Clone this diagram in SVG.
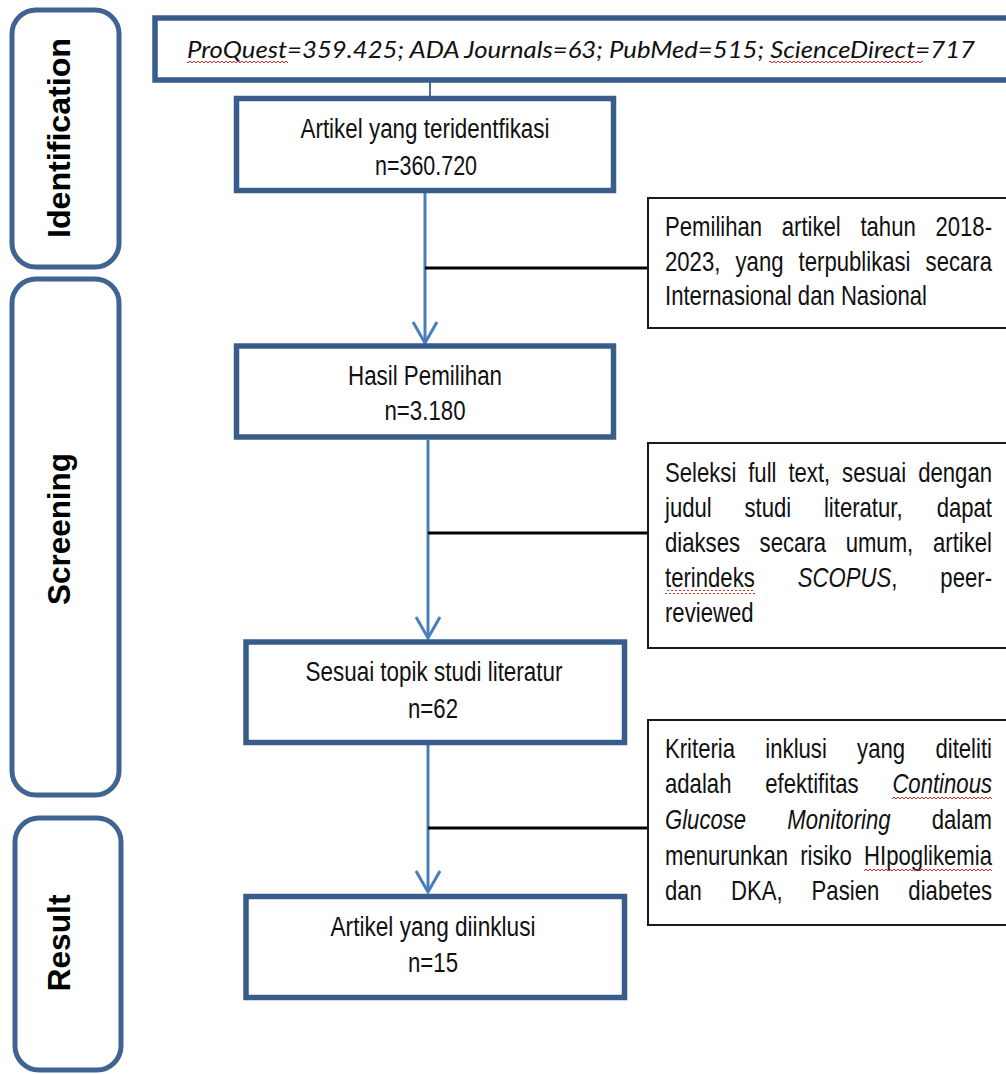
<svg xmlns="http://www.w3.org/2000/svg" width="1006" height="1074" viewBox="0 0 1006 1074">
<defs>
<style>
.bx{fill:#fff;stroke:#385d8a;stroke-width:5.5}
.side{fill:#fff;stroke:#3f6494;stroke-width:5}
.rb{fill:#fff;stroke:#1a1a1a;stroke-width:2}
.lbl{font-family:"Liberation Sans",Arial,sans-serif;font-weight:bold;font-size:31px;fill:#000}
.nt{font-family:"Liberation Sans Narrow","Arial Narrow","Liberation Sans",sans-serif;font-size:27px;fill:#111}
.rt{font-family:"Liberation Sans",Arial,sans-serif;font-size:27px;fill:#111}
.it{font-style:italic}
.arr{stroke:#4a7ebb;stroke-width:3;fill:none}
.br{stroke:#000;stroke-width:3;fill:none}
.top{font-family:Lato,"Open Sans",sans-serif;font-style:italic;font-size:24px;fill:#111}
</style>
<pattern id="sq" width="4" height="4" patternUnits="userSpaceOnUse">
<path d="M0,3 L2,1 L4,3" stroke="#e02a2a" stroke-width="1" fill="none"/>
</pattern>
</defs>

<g id="stage-identification">
<rect class="side" x="12" y="10" width="107" height="257" rx="24"/>
<text class="lbl" transform="translate(70,138) rotate(-90)" text-anchor="middle" textLength="200" lengthAdjust="spacingAndGlyphs">Identification</text>
</g>
<g id="stage-screening">
<rect class="side" x="12" y="279" width="107" height="516" rx="24"/>
<text class="lbl" transform="translate(70,529) rotate(-90)" text-anchor="middle" textLength="152" lengthAdjust="spacingAndGlyphs">Screening</text>
</g>
<g id="stage-result">
<rect class="side" x="15" y="818" width="106" height="252" rx="24"/>
<text class="lbl" transform="translate(70,943) rotate(-90)" text-anchor="middle" textLength="97" lengthAdjust="spacingAndGlyphs">Result</text>
</g>

<g id="connectors">
<line x1="430" y1="82" x2="430" y2="96" stroke="#4a6f9c" stroke-width="2"/>
<line class="arr" x1="425" y1="193" x2="425" y2="343"/>
<path class="arr" d="M413,322 L425,343 L437,322"/>
<line class="br" x1="425" y1="268" x2="648" y2="268"/>
<line class="arr" x1="428" y1="440" x2="428" y2="638"/>
<path class="arr" d="M416,617 L428,638 L440,617"/>
<line class="br" x1="428" y1="533" x2="648" y2="533"/>
<line class="arr" x1="428" y1="745" x2="428" y2="892"/>
<path class="arr" d="M416,871 L428,892 L440,871"/>
<line class="br" x1="428" y1="828" x2="648" y2="828"/>
</g>

<g id="sources">
<rect class="bx" x="155" y="18" width="860" height="62"/>
<text class="top" x="187" y="58" textLength="788" lengthAdjust="spacingAndGlyphs">ProQuest=359.425; ADA Journals=63; PubMed=515; ScienceDirect=717</text>
<rect x="187" y="61" width="101" height="4" fill="url(#sq)"/>
<rect x="769" y="61" width="154" height="4" fill="url(#sq)"/>
</g>

<g id="identified">
<rect class="bx" x="236.5" y="98.5" width="377" height="92"/>
<text class="nt" x="425" y="138" text-anchor="middle" textLength="249" lengthAdjust="spacingAndGlyphs">Artikel yang teridentfikasi</text>
<text class="nt" x="426" y="175" text-anchor="middle" textLength="102" lengthAdjust="spacingAndGlyphs">n=360.720</text>
</g>

<g id="selection-result">
<rect class="bx" x="236.5" y="346" width="377" height="91"/>
<text class="nt" x="425" y="385" text-anchor="middle" textLength="154" lengthAdjust="spacingAndGlyphs">Hasil Pemilihan</text>
<text class="nt" x="425" y="420" text-anchor="middle" textLength="81" lengthAdjust="spacingAndGlyphs">n=3.180</text>
</g>

<g id="topic-match">
<rect class="bx" x="246" y="642" width="378.5" height="100.5"/>
<text class="nt" x="434" y="681" text-anchor="middle" textLength="257" lengthAdjust="spacingAndGlyphs">Sesuai topik studi literatur</text>
<text class="nt" x="433" y="718" text-anchor="middle" textLength="50" lengthAdjust="spacingAndGlyphs">n=62</text>
</g>

<g id="included">
<rect class="bx" x="246" y="896.5" width="378.5" height="101"/>
<text class="nt" x="433" y="936" text-anchor="middle" textLength="205" lengthAdjust="spacingAndGlyphs">Artikel yang diinklusi</text>
<text class="nt" x="433" y="972" text-anchor="middle" textLength="50" lengthAdjust="spacingAndGlyphs">n=15</text>
</g>

<g id="criteria-year">
<rect class="rb" x="648" y="198" width="370" height="130"/>
<g transform="translate(665 0) scale(0.82 1)">
<text class="rt" y="236"><tspan x="0">Pemilihan</tspan><tspan x="142.4">artikel</tspan><tspan x="238.3">tahun</tspan></text>
<text class="rt" y="236" x="398.8" text-anchor="end">2018-</text>
<text class="rt" y="271"><tspan x="0">2023,</tspan><tspan x="86">yang</tspan><tspan x="162.9">terpublikasi</tspan></text>
<text class="rt" y="271" x="398.8" text-anchor="end">secara</text>
<text class="rt" x="0" y="305">Internasional dan Nasional</text>
</g>
</g>

<g id="criteria-fulltext">
<rect class="rb" x="648" y="443" width="370" height="205"/>
<g transform="translate(665 0) scale(0.82 1)">
<text class="rt" y="482"><tspan x="0">Seleksi</tspan><tspan x="101.5">full</tspan><tspan x="150.5">text,</tspan><tspan x="216">sesuai</tspan></text>
<text class="rt" y="482" x="398.8" text-anchor="end">dengan</text>
<text class="rt" y="517"><tspan x="0">judul</tspan><tspan x="96.9">studi</tspan><tspan x="193.8">literatur,</tspan></text>
<text class="rt" y="517" x="398.8" text-anchor="end">dapat</text>
<text class="rt" y="552"><tspan x="0">diakses</tspan><tspan x="115.4">secara</tspan><tspan x="220.3">umum,</tspan></text>
<text class="rt" y="552" x="398.8" text-anchor="end">artikel</text>
<text class="rt" y="587"><tspan x="0">terindeks</tspan><tspan x="161.9" class="it">SCOPUS</tspan>,</text>
<text class="rt" y="587" x="398.8" text-anchor="end">peer-</text>
<text class="rt" x="0" y="622">reviewed</text>
</g>
<rect x="665" y="590" width="90" height="4" fill="url(#sq)"/>
</g>

<g id="criteria-inclusion">
<rect class="rb" x="648" y="720" width="370" height="205"/>
<g transform="translate(665 0) scale(0.82 1)">
<text class="rt" y="758"><tspan x="0">Kriteria</tspan><tspan x="122.4">inklusi</tspan><tspan x="234.3">yang</tspan></text>
<text class="rt" y="758" x="398.8" text-anchor="end">diteliti</text>
<text class="rt" y="793"><tspan x="0">adalah</tspan><tspan x="122.2">efektifitas</tspan></text>
<text class="rt it" y="793" x="398.8" text-anchor="end">Continous</text>
<text class="rt it" y="829"><tspan x="0">Glucose</tspan><tspan x="149.1">Monitoring</tspan></text>
<text class="rt" y="829" x="398.8" text-anchor="end">dalam</text>
<text class="rt" y="865"><tspan x="0">menurunkan</tspan><tspan x="164.9">risiko</tspan></text>
<text class="rt" y="865" x="398.8" text-anchor="end">HIpoglikemia</text>
<text class="rt" y="900"><tspan x="0">dan</tspan><tspan x="80.4">DKA,</tspan><tspan x="178.8">Pasien</tspan></text>
<text class="rt" y="900" x="398.8" text-anchor="end">diabetes</text>
</g>
<rect x="892" y="796" width="100" height="4" fill="url(#sq)"/>
<rect x="864" y="868" width="128" height="4" fill="url(#sq)"/>
</g>
</svg>
